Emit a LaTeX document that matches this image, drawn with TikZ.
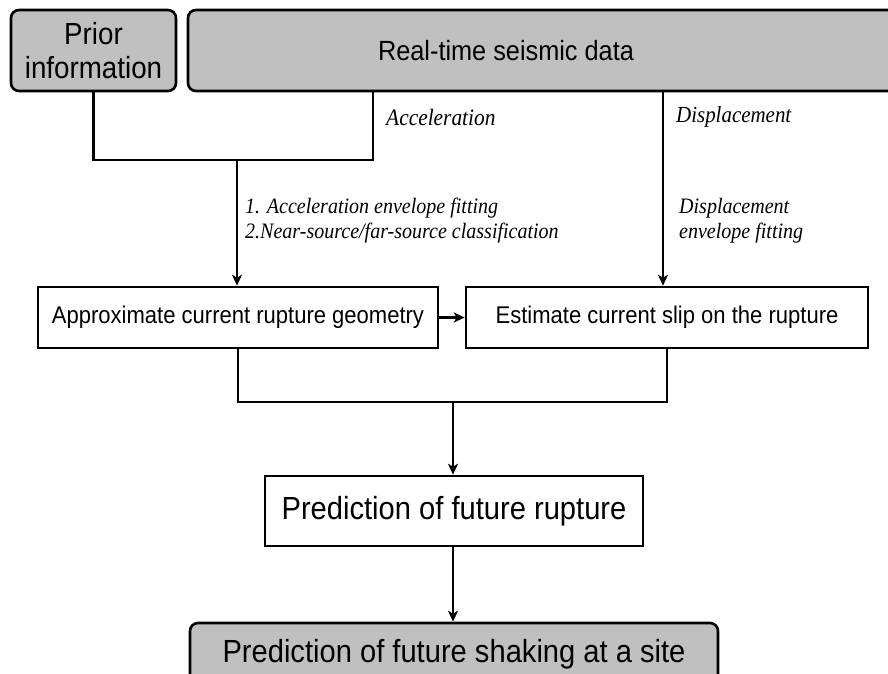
\documentclass[tikz,border=0pt]{standalone}
\usepackage{fontspec}
\setmainfont{Liberation Serif}[FakeStretch=0.91]
\setsansfont{Liberation Sans}[FakeStretch=0.91]
\usetikzlibrary{arrows, arrows.meta, positioning}
\definecolor{boxgrey}{RGB}{192,192,192}
\tikzset{
    %Define standard arrow tip
    >={Stealth[length=11pt, width=10pt, inset=3pt]},
}

\begin{document}
\begin{tikzpicture}[
    x=1pt, y=-1pt,
    grey/.style = {draw, fill=boxgrey, rounded corners=8pt, line width=2.6pt,
                   inner sep=0pt, align=center},
    plain/.style = {draw, fill=white, line width=2.6pt, inner sep=0pt},
    lbl/.style = {inner sep=0pt, anchor=west, align=left,
                  font=\fontsize{22}{25}\selectfont\itshape},
    conn/.style = {line width=2.2pt},
  ]
  \useasboundingbox (0,0) rectangle (888,673);
  \clip (0,0) rectangle (888,673);
  \node[grey, minimum width=165, minimum height=81,
        font=\sffamily\fontsize{30.5}{34}\selectfont] (prior) at (93.5,50.5) {Prior\\information};
  \node[grey, minimum width=720, minimum height=81,
        font=\sffamily\fontsize{27.8}{30}\selectfont] (realtime) at (548,50.5) {Real-time seismic data\hspace*{84pt}};
  \node[plain, minimum width=400, minimum height=61,
        font=\sffamily\fontsize{24.2}{28}\selectfont] (approx) at (238,317.5) {Approximate current rupture geometry};
  \node[plain, minimum width=402, minimum height=61,
        font=\sffamily\fontsize{24.2}{28}\selectfont] (estimate) at (667,317.5) {Estimate current slip on the rupture};
  \node[plain, minimum width=378, minimum height=70,
        font=\sffamily\fontsize{32}{36}\selectfont] (rupture) at (454,511) {Prediction of future rupture};
  \node[grey, minimum width=528, minimum height=62,
        font=\sffamily\fontsize{32}{36}\selectfont] (shaking) at (454,654) {Prediction of future shaking at a site};
  \node[lbl, font=\fontsize{23.5}{26}\selectfont\itshape] (acclbl) at (386,117) {Acceleration};
  \node[lbl, font=\fontsize{23}{26}\selectfont\itshape] (displbl) at (676,117) {Displacement};
  \node[lbl] (fitlbl) at (245,221) {1. Acceleration envelope fitting\\2.Near-source/far-source classification};
  \node[lbl] (envlbl) at (679,221) {Displacement\\envelope fitting};
  \coordinate (accel) at (373,91);
  \coordinate (disp) at (663,91);
  \coordinate (join1) at (237,160);
  \coordinate (join2) at (453,402);
  \draw[conn] (prior.south) |- (join1) -| (accel);
  \draw[conn,->] (join1) -- (join1 |- approx.north);
  \draw[conn,->] (disp) -- (disp |- estimate.north);
  \draw[conn,->] (approx) -- (estimate);
  \draw[conn] (approx.south) |- (join2) -| (estimate.south);
  \draw[conn,->] (join2) -- (join2 |- rupture.north);
  \draw[conn,->] (rupture.south -| join2) -- (join2 |- shaking.north);


\end{tikzpicture}
\end{document}
